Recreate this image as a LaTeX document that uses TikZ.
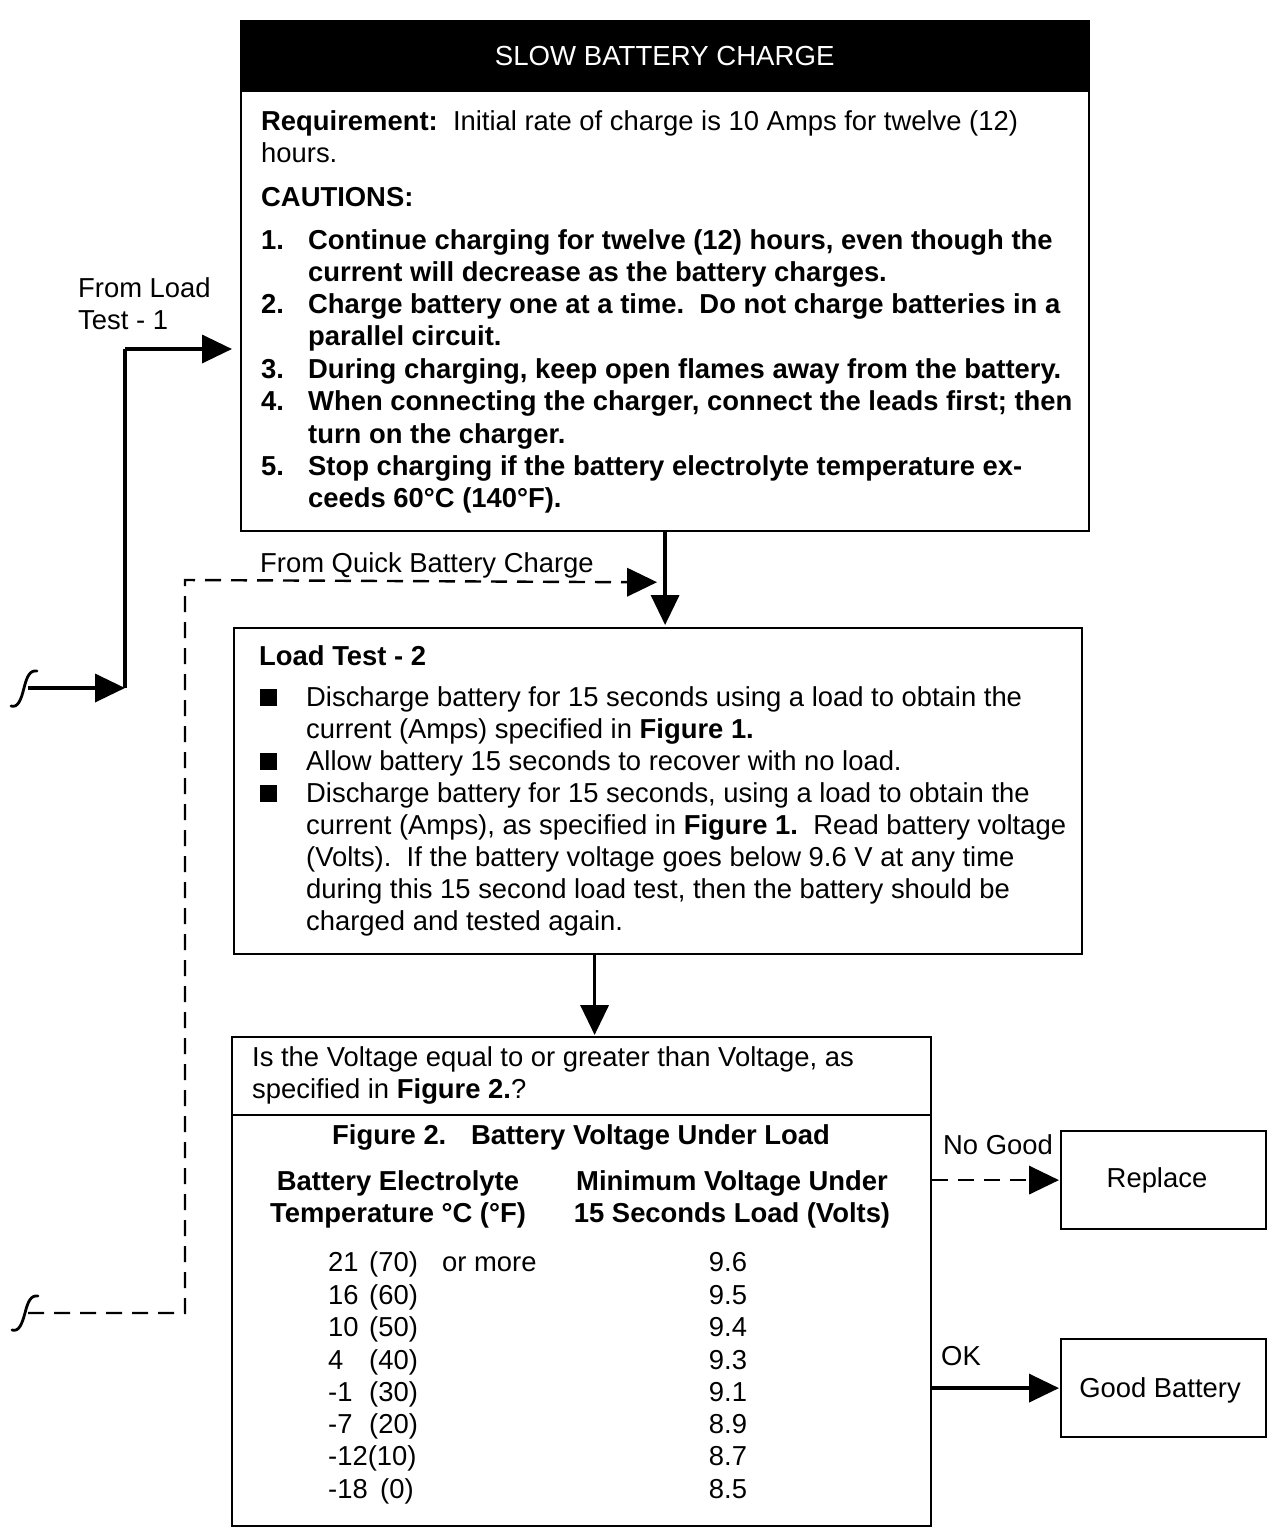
\documentclass[tikz,border=0pt]{standalone}
\usepackage{fontspec}
\setmainfont{Liberation Sans}
\usetikzlibrary{arrows.meta,calc}
\newcommand\bodyfs{\fontsize{27.4}{32}\selectfont}
\newcommand\hdrfs{\fontsize{27.6}{30}\selectfont}
\begin{document}
\begin{tikzpicture}[x=1pt,y=-1pt,
  box/.style={draw, line width=2.2pt, anchor=north west, inner sep=0pt},
  txt/.style={anchor=base west, inner sep=0pt, font=\bodyfs},
  ctr/.style={anchor=base, inner sep=0pt, font=\bodyfs},
  arr/.style={line width=3.6pt, -{Triangle[length=30pt,width=28pt]}},
  dsh/.style={line width=2.4pt, dash pattern=on 16pt off 10pt},
  bul/.style={fill=black, anchor=south west, minimum size=17pt, inner sep=0pt},
  offpage/.style={line width=2.8pt, line cap=round}]
\useasboundingbox (0,0) rectangle (1280,1532);

% ---------- boxes ----------
\node[box, minimum width=848pt, minimum height=510pt] (top) at (240,20) {};
\node[fill=black, anchor=north west, inner sep=0pt, minimum width=849pt, minimum height=72pt,
      text=white, font=\hdrfs] (hdr) at (240,20) {SLOW BATTERY CHARGE};
\node[box, minimum width=848pt, minimum height=326pt] (lt) at (233,627) {};
\node[box, minimum width=699pt, minimum height=489pt] (q) at (231,1036) {};
\node[box, minimum width=205pt, minimum height=98pt] (rep) at (1060,1130) {};
\node[box, minimum width=205pt, minimum height=98pt] (gb) at (1060,1338) {};
\draw[line width=2.2pt] (q.west |- 0,1115) -- (q.east |- 0,1115);

% ---------- top box text ----------
\node[txt] (rq1) at (261,130) {\textbf{Requirement:}\ \ Initial rate of charge is 10 Amps for twelve (12)};
\node[txt] (rq2) at (261,162) {hours.};
\node[txt] (cau) at (261,206) {\textbf{CAUTIONS:}};
\node[txt] (c1a) at (261,249) {\bfseries\makebox[47pt][l]{1.}Continue charging for twelve (12) hours, even though the};
\node[txt] (c1b) at (308,281) {\bfseries current will decrease as the battery charges.};
\node[txt] (c2a) at (261,313) {\bfseries\makebox[47pt][l]{2.}Charge battery one at a time.\ \ Do not charge batteries in a};
\node[txt] (c2b) at (308,345) {\bfseries parallel circuit.};
\node[txt] (c3) at (261,378) {\bfseries\makebox[47pt][l]{3.}During charging, keep open flames away from the battery.};
\node[txt] (c4a) at (261,410) {\bfseries\makebox[47pt][l]{4.}When connecting the charger, connect the leads first; then};
\node[txt] (c4b) at (308,443) {\bfseries turn on the charger.};
\node[txt] (c5a) at (261,475) {\bfseries\makebox[47pt][l]{5.}Stop charging if the battery electrolyte temperature ex-};
\node[txt] (c5b) at (308,507) {\bfseries ceeds 60°C (140°F).};

% ---------- load test 2 text ----------
\node[txt] (ltt) at (259,665) {\textbf{Load Test - 2}};
\node[bul] (b1) at (260,706) {};
\node[bul] (b2) at (260,770) {};
\node[bul] (b3) at (260,802) {};
\node[txt] (l1) at (306,706) {Discharge battery for 15 seconds using a load to obtain the};
\node[txt] (l2) at (306,738) {current (Amps) specified in \textbf{Figure 1.}};
\node[txt] (l3) at (306,770) {Allow battery 15 seconds to recover with no load.};
\node[txt] (l4) at (306,802) {Discharge battery for 15 seconds, using a load to obtain the};
\node[txt] (l5) at (306,834) {current (Amps), as specified in \textbf{Figure 1.}\ \ Read battery voltage};
\node[txt] (l6) at (306,866) {(Volts).\ \ If the battery voltage goes below 9.6 V at any time};
\node[txt] (l7) at (306,898) {during this 15 second load test, then the battery should be};
\node[txt] (l8) at (306,930) {charged and tested again.};

% ---------- question box text ----------
\node[txt] (q1) at (252,1066) {Is the Voltage equal to or greater than Voltage, as};
\node[txt] (q2) at (252,1098) {specified in \textbf{Figure 2.}?};
\node[ctr] (fig) at (581,1144) {\textbf{Figure 2.\hspace{0.9em}Battery Voltage Under Load}};
\node[ctr] (h1) at (398,1190) {\textbf{Battery Electrolyte}};
\node[ctr] (h2) at (398,1222) {\textbf{Temperature °C (°F)}};
\node[ctr] (h3) at (732,1190) {\textbf{Minimum Voltage Under}};
\node[ctr] (h4) at (732,1222) {\textbf{15 Seconds Load (Volts)}};

\node[txt] (t1) at (328,1271) {21};  \node[txt] (p1) at (369,1271) {(70)}; \node[txt] (om) at (442,1271) {or more};
\node[txt] (t2) at (328,1304) {16};  \node[txt] (p2) at (369,1304) {(60)};
\node[txt] (t3) at (328,1336) {10};  \node[txt] (p3) at (369,1336) {(50)};
\node[txt] (t4) at (328,1369) {4};   \node[txt] (p4) at (369,1369) {(40)};
\node[txt] (t5) at (328,1401) {-1};  \node[txt] (p5) at (369,1401) {(30)};
\node[txt] (t6) at (328,1433) {-7};  \node[txt] (p6) at (369,1433) {(20)};
\node[txt] (t7) at (328,1465) {-12(10)};
\node[txt] (t8) at (328,1498) {-18};  \node[txt] (p8) at (380,1498) {(0)};
\node[ctr] (v1) at (728,1271) {9.6};
\node[ctr] (v2) at (728,1304) {9.5};
\node[ctr] (v3) at (728,1336) {9.4};
\node[ctr] (v4) at (728,1369) {9.3};
\node[ctr] (v5) at (728,1401) {9.1};
\node[ctr] (v6) at (728,1433) {8.9};
\node[ctr] (v7) at (728,1465) {8.7};
\node[ctr] (v8) at (728,1498) {8.5};

% ---------- result boxes text ----------
\node[ctr] (rept) at (1157,1187) {Replace};
\node[ctr] (gbt) at (1160,1397) {Good Battery};

% ---------- labels ----------
\node[txt] (fl1) at (78,297) {From Load};
\node[txt] (fl2) at (78,329) {Test - 1};
\node[txt] (fq) at (260,572) {From Quick Battery Charge};
\node[txt] (ng) at (943,1154) {No Good};
\node[txt] (ok) at (941,1365) {OK};

% ---------- off-page connectors ----------
\coordinate (off1) at (28,688);
\coordinate (k1) at (125,688);
\coordinate (k2) at (125,349);
\coordinate (off2) at (28,1313);
\coordinate (k3) at (185,1313);
\coordinate (k4) at (185,580);
\draw[offpage] (11,706) .. controls (18,708) and (21,700) .. (24,688) .. controls (27,676) and (30,670) .. (37,671);
\draw[offpage] (12,1330) .. controls (19,1332) and (22,1324) .. (25,1313) .. controls (28,1301) and (31,1295) .. (38,1296);

% ---------- connectors ----------
\draw[arr] (off1) -- (k1);
\draw[line width=3.6pt] (k1) -- (k2);
\draw[arr, shorten >=8pt] (k2) -- (top.west |- k2);
\draw[dsh] (off2) -- (k3) -- (k4) -- ($(top.south)+(-36,50)$);
\draw[arr, shorten >=2pt] ($(top.south)+(-36,50)$) -- ($(top.south)+(-6,50)$);
\draw[arr, shorten >=2pt] (top.south) -- (top.south |- lt.north);
\draw[arr, shorten >=1pt] ([xshift=13pt]q.north |- lt.south) -- ([xshift=13pt]q.north);
\draw[dsh, line width=2.4pt] (q.east |- rep.west) -- ($(rep.west)+(-30,0)$);
\draw[arr, shorten >=1pt] ($(rep.west)+(-31,0)$) -- (rep.west);
\draw[arr, shorten >=1pt] (q.east |- gb.west) -- (gb.west);
\end{tikzpicture}
\end{document}
